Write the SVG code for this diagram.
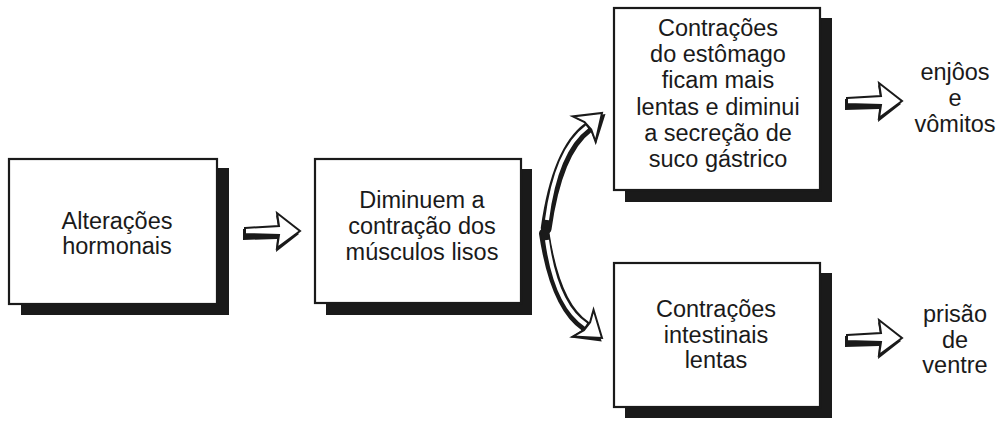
<svg xmlns="http://www.w3.org/2000/svg" width="996" height="421" viewBox="0 0 996 421">
<defs>
<style>
.box{fill:#fff;stroke:#1a1a1a;stroke-width:2.2}
.sh{fill:#1a1a1a}
.t{font-family:"Liberation Sans",Arial,sans-serif;font-size:23.5px;fill:#1a1a1a;text-anchor:middle}
.ah{fill:#fff;stroke:#1a1a1a;stroke-width:2;stroke-linejoin:miter}
.ahs{fill:#1a1a1a}
.sa{fill:none;stroke:#1a1a1a;stroke-width:10;stroke-linecap:round}
.sb{fill:none;stroke:#fff;stroke-width:4;stroke-linecap:butt}
</style>
<g id="barrow">
<polygon class="ahs" points="-2,-2 33,-4 31,-16 54,3 31,21 32,8 -2,9"/>
<polygon class="ah" points="0,-3 34,-5 32,-18 55,0 32,17 34,4 0,3"/>
</g>
<g id="head">
<polygon class="ahs" points="-23,-13 -19,-4 -21,7 -25,19 2,3"/>
<polygon class="ah" points="-24,-17 -19,-5 -19,5 -24,17 0,0"/>
</g>
</defs>

<g id="n1">
<rect class="sh" x="21" y="168" width="208" height="147"/>
<rect class="box" x="9" y="159" width="208" height="145"/>
<text class="t" x="117" y="229">Alterações</text>
<text class="t" x="117" y="254">hormonais</text>
</g>

<g id="n2">
<rect class="sh" x="326" y="169" width="206" height="146"/>
<rect class="box" x="315" y="159" width="206" height="144"/>
<text class="t" x="422" y="208">Diminuem a</text>
<text class="t" x="422" y="234">contração dos</text>
<text class="t" x="422" y="260">músculos lisos</text>
</g>

<g id="n3">
<rect class="sh" x="625" y="18" width="207" height="184"/>
<rect class="box" x="614" y="8" width="206" height="182"/>
<text class="t" x="718" y="36">Contrações</text>
<text class="t" x="718" y="62">do estômago</text>
<text class="t" x="718" y="88">ficam mais</text>
<text class="t" x="718" y="115">lentas e diminui</text>
<text class="t" x="718" y="141">a secreção de</text>
<text class="t" x="718" y="167">suco gástrico</text>
</g>

<g id="n4">
<rect class="sh" x="625" y="273" width="207" height="145"/>
<rect class="box" x="614" y="263" width="206" height="144"/>
<text class="t" x="716" y="317">Contrações</text>
<text class="t" x="716" y="343">intestinais</text>
<text class="t" x="716" y="368">lentas</text>
</g>

<g id="n5">
<text class="t" x="955" y="80">enjôos</text>
<text class="t" x="955" y="106">e</text>
<text class="t" x="955" y="132">vômitos</text>
</g>

<g id="n6">
<text class="t" x="955" y="322">prisão</text>
<text class="t" x="955" y="348">de</text>
<text class="t" x="955" y="373">ventre</text>
</g>

<g id="connectors">
<use href="#barrow" transform="translate(245,231)"/>
<use href="#barrow" transform="translate(847,101)"/>
<use href="#barrow" transform="translate(847,338)"/>

<path class="sa" d="M545,228 Q556,150 587,127" transform="translate(1.5,1)"/>
<path class="sa" d="M545,228 Q556,150 587,127" style="stroke-width:8.5"/>
<path class="sb" d="M547,220 Q556,150 587,127"/>
<use href="#head" transform="translate(602,113) rotate(-42)"/>

<path class="sa" d="M545,232 Q556,305 586,325" transform="translate(-1,1.5)"/>
<path class="sa" d="M545,232 Q556,305 586,325" style="stroke-width:8.5"/>
<path class="sb" d="M547,240 Q556,305 586,325"/>
<use href="#head" transform="translate(602,338) rotate(38)"/>
</g>
</svg>
